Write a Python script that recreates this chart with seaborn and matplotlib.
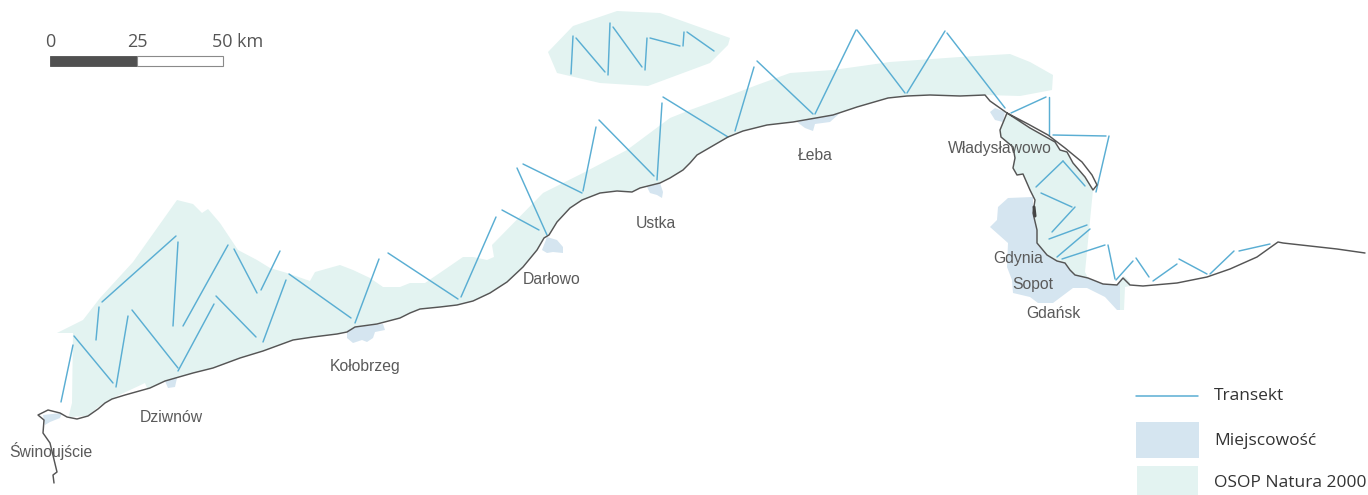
import matplotlib
matplotlib.use("Agg")
import matplotlib.pyplot as plt
from matplotlib.patches import Rectangle
import pandas as pd
import seaborn as sns

# Coastline, west to east (map coordinates)
coast_west = [(54,483),(53,475),(57,472),(50,443),(43,433),(44,420),(38,415),(48,410),(60,413)]
coast_open = [(67,417),(77,419),(88,416),(98,409),(105,403),(112,399),(125,395),(150,388),(165,381),
              (193,373),(213,368),(240,358),(263,351),(293,340),(313,337),(337,334),(347,332),(355,327),
              (377,324),(400,318),(410,313),(420,309),(440,307),(457,305),(473,301),(490,293),(507,282),
              (523,267),(537,250),(544,238),(549,235),(557,222),(570,208),(582,200),(600,193),(617,191),
              (632,192),(640,188),(660,183),(670,178),(683,170),(690,163),(697,155),(728,137),(743,131),
              (767,125),(793,122),(833,115),(857,107),(888,98),(907,96),(930,95),(960,96),(985,95),
              (990,101),(1007,113)]
hel_outer = [(1028,124),(1048,135),(1065,148),(1082,162),(1092,175),(1097,185),(1093,190)]
hel_inner = [(1085,177),(1073,163),(1067,152),(1060,150),(1055,142),(1030,128),(1007,113)]
bay_coast = [(1000,130),(1001,137),(1013,147),(1015,158),(1013,168),(1017,175),(1023,174),(1030,190),
             (1035,200),(1033,213),(1037,230),(1037,243),(1047,255),(1057,261),(1065,263),(1070,270),
             (1075,275),(1088,278),(1103,284),(1117,285),(1123,278),(1130,285),(1143,286),(1177,283),
             (1207,277),(1230,269),(1257,257),(1278,242),(1283,243),(1337,249),(1365,253)]
coast_blob = [(1034,207),(1035,216)]

# Natura 2000 areas
natura_main_north = [(69,415),(72,403),(73,333),(57,333),(83,320),(100,298),(133,262),(177,200),(193,204),
                     (202,213),(208,209),(220,223),(238,250),(257,260),(270,268),(287,273),(310,281),
                     (315,272),(340,265),(353,270),(370,278),(383,287),(400,287),(410,283),(425,283),
                     (447,268),(463,257),(473,257),(487,260),(494,257),(492,245),(543,193),(583,173),
                     (627,150),(670,118),(690,110),(723,98),(757,85),(790,73),(833,70),(890,62),(960,57),
                     (1010,54),(1030,62),(1053,75),(1052,90),(1020,96)]
natura_main_gap = [(147,388),(145,383),(113,398),(98,407),(88,416),(70,417)]
natura_bay_east = [(1093,190),(1092,200),(1085,272),(1088,278)]
natura_bank = [(548,52),(573,26),(617,11),(660,13),(730,38),(728,45),(710,63),(648,86),(600,83),(557,73)]
natura_hel_end = [(1120,280),(1124,276),(1130,282),(1130,286),(1125,287),(1124,310),(1120,310)]

# Towns
town_swinoujscie = [(43,415),(62,413),(60,418),(50,422),(45,425)]
town_dziwnow = [(165,381),(177,378),(175,387),(168,388)]
town_kolobrzeg = [(347,330),(355,327),(383,324),(385,330),(375,332),(373,338),(367,342),(362,340),(353,343),(347,338)]
town_darlowo = [(542,250),(547,237),(557,240),(563,247),(563,253),(553,252),(547,253)]
town_ustka = [(647,187),(660,183),(663,192),(662,198),(657,195),(650,193)]
town_leba = [(797,122),(840,113),(830,122),(815,124),(813,131),(805,128)]
town_wladyslawowo = [(990,112),(995,108),(1005,112),(1003,122),(995,120)]
town_trojmiasto = [(1033,197),(1008,198),(998,207),(997,220),(990,227),(1008,243),(1007,267),(1012,280),(1013,293),
                   (1030,297),(1038,303),(1053,303),(1073,288),(1087,288),(1105,297),(1117,310),(1122,310),(1123,278),
                   (1117,285),(1103,284),(1088,278),(1075,275),(1070,270),(1065,263),(1057,261),(1047,255),(1037,243),
                   (1037,230),(1033,213)]

# Transects: start and end of each one
transects_west = [((61,402),(73,345)),((74,336),(113,383)),((116,387),(128,316)),((132,310),(178,368)),
                  ((178,371),(214,304)),((216,296),(256,337)),((263,342),(286,280)),((289,274),(351,318)),
                  ((355,323),(379,259)),((388,253),(458,299)),((96,340),(99,307)),((102,302),(176,236)),
                  ((178,242),(173,326)),((183,326),(228,245)),((234,249),(257,293)),((261,290),(280,251))]
transects_mid = [((461,297),(496,217)),((502,210),(539,230)),((547,235),(517,168)),((523,164),(582,193)),
                 ((583,191),(596,127)),((599,120),(654,176)),((657,180),(662,103)),((663,97),(728,137)),
                 ((735,131),(754,67)),((757,61),(813,114)),((815,114),(856,30)),((857,30),(905,93)),
                 ((907,93),(945,31)),((947,33),(1005,108))]
transects_bank = [((571,74),(573,36)),((576,38),(605,72)),((608,75),(610,23)),((613,27),(642,67)),
                  ((645,70),(647,38)),((650,38),(680,46)),((683,46),(684,32)),((687,32),(714,51))]
transects_bay = [((1011,113),(1046,97)),((1049,97),(1049,135)),((1053,135),(1106,136)),((1109,136),(1096,192)),
                 ((1085,186),(1063,161)),((1063,161),(1036,187)),((1041,193),(1072,207)),((1075,207),(1052,232)),
                 ((1049,239),(1087,225)),((1090,229),(1057,257)),((1062,259),(1105,245)),((1108,245),(1115,279)),
                 ((1116,280),(1133,261)),((1136,258),(1149,277)),((1153,281),(1177,264)),((1179,259),(1207,274)),
                 ((1210,274),(1234,251)),((1239,251),(1270,244))]

town_names = ["Świnoujście","Dziwnów","Kołobrzeg","Darłowo","Ustka","Łeba","Władysławowo","Gdynia","Sopot","Gdańsk"]
town_label_x = [51,171,365,552,656,815,1000,1018,1033,1053]
town_label_y = [451,418,367,279,224,156,149,258,284,314]
scale_labels = ["0","25","50 km"]
scale_label_x = [50,137,238]
legend_labels = ["Transekt","Miejscowość","OSOP Natura 2000"]

C_NAT, C_TOWN, C_TR, C_COAST, C_TXT = "#e3f3f1", "#d5e5f0", "#5aaed3", "#555555", "#5a5a5a"
LABEL_FONT = ["Liberation Sans"]
LEG_FONT = ["Open Sans"]

sns.set_theme(style="white")
fig, ax = plt.subplots(figsize=(13.68, 4.95), dpi=100)
ax.set_position([0, 0, 1, 1])

def poly(points, color, z):
    xs, ys = zip(*points)
    ax.fill(xs, ys, color=color, lw=0, zorder=z)

# The main area follows the coast back from its eastern end to the gap near Dziwnów
south_edge = [p for p in coast_open[::-1] if 150 <= p[0] <= 985]
poly(natura_main_north + south_edge + natura_main_gap, C_NAT, 1)
# The bay area follows the inner Hel line and the bay coast
bay_west = [p for p in bay_coast if p[0] <= 1088 and p[1] <= 278][::-1]
poly(hel_inner[::-1] + natura_bay_east + bay_west, C_NAT, 1)
poly(natura_bank, C_NAT, 1)
for t in [town_swinoujscie, town_dziwnow, town_kolobrzeg, town_darlowo, town_ustka,
          town_leba, town_wladyslawowo, town_trojmiasto]:
    poly(t, C_TOWN, 2)
poly(natura_hel_end, C_NAT, 2.5)

rows = []
for i, (a, b) in enumerate(transects_west + transects_mid + transects_bank + transects_bay):
    rows += [dict(id=i, x=a[0], y=a[1]), dict(id=i, x=b[0], y=b[1])]
tr = pd.DataFrame(rows)
sns.lineplot(data=tr, x="x", y="y", units="id", estimator=None, sort=False,
             color=C_TR, lw=1.05, ax=ax, zorder=3, legend=False)

coast_pts = coast_west + coast_open + hel_outer + hel_inner + bay_coast
coast = pd.DataFrame(coast_pts, columns=["x", "y"])
sns.lineplot(data=coast, x="x", y="y", estimator=None, sort=False,
             color=C_COAST, lw=1.05, ax=ax, zorder=4, legend=False, solid_joinstyle="round")
blob = pd.DataFrame(coast_blob, columns=["x", "y"])
sns.lineplot(data=blob, x="x", y="y", estimator=None, sort=False,
             color="#444444", lw=2.2, ax=ax, zorder=4, legend=False)

for name, x, y in zip(town_names, town_label_x, town_label_y):
    ax.text(x, y, name, ha="center", va="center", fontsize=11.3, color=C_TXT, family=LABEL_FONT, zorder=5)

# Scale bar
ax.add_patch(Rectangle((50, 56), 87, 10, fc="#505050", ec="#505050", lw=0.6, zorder=5))
ax.add_patch(Rectangle((137, 56), 86, 10, fc="white", ec="#8a8a8a", lw=0.8, zorder=5))
for lab, x in zip(scale_labels, scale_label_x):
    ax.text(x, 42, lab, ha="center", va="center", fontsize=13, color="#555555", family=LEG_FONT, zorder=5)

# Legend
ax.plot([1136, 1198], [396, 396], color=C_TR, lw=1.1, zorder=5)
ax.add_patch(Rectangle((1136, 422), 63, 36, fc=C_TOWN, ec="none", zorder=5))
ax.add_patch(Rectangle((1137, 466), 61, 29, fc=C_NAT, ec="none", zorder=5))
for lab, y in zip(legend_labels, [396, 441, 483]):
    ax.text(1214, y, lab, ha="left", va="center", fontsize=12.5, color="#333333", family=LEG_FONT, zorder=5)

ax.set_xlim(0, 1368)
ax.set_ylim(495, 0)
ax.set_axis_off()
fig.savefig("out.png", dpi=100, facecolor="white")
